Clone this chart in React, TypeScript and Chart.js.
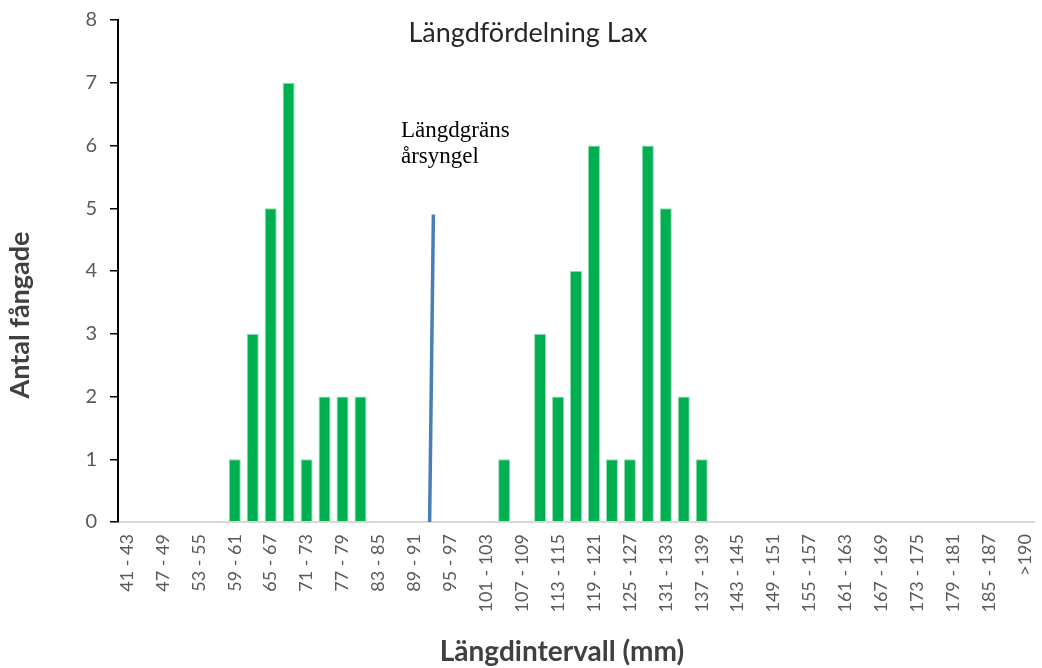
import React, { useEffect, useRef } from 'react';
import { Chart, registerables } from 'chart.js';

Chart.register(...registerables);

const categories: string[] = [
  '41 - 43', '44 - 46', '47 - 49', '50 - 52', '53 - 55', '56 - 58', '59 - 61', '62 - 64',
  '65 - 67', '68 - 70', '71 - 73', '74 - 76', '77 - 79', '80 - 82', '83 - 85', '86 - 88',
  '89 - 91', '92 - 94', '95 - 97', '98 - 100', '101 - 103', '104 - 106', '107 - 109', '110 - 112',
  '113 - 115', '116 - 118', '119 - 121', '122 - 124', '125 - 127', '128 - 130', '131 - 133', '134 - 136',
  '137 - 139', '140 - 142', '143 - 145', '146 - 148', '149 - 151', '152 - 154', '155 - 157', '158 - 160',
  '161 - 163', '164 - 166', '167 - 169', '170 - 172', '173 - 175', '176 - 178', '179 - 181', '182 - 184',
  '185 - 187', '188 - 190', '>190',
];

const counts: number[] = [
  0, 0, 0, 0, 0, 0, 1, 3, 5, 7, 1, 2, 2, 2, 0, 0,
  0, 0, 0, 0, 0, 1, 0, 3, 2, 4, 6, 1, 1, 6, 5, 2,
  1, 0, 0, 0, 0, 0, 0, 0, 0, 0, 0, 0, 0, 0, 0, 0,
  0, 0, 0,
];

// Length limit line (x in category-index units, y in counts)
const limitLineX: number[] = [16.85, 17.06];
const limitLineY: number[] = [0, 4.9];

const yTicks: number[] = [0, 1, 2, 3, 4, 5, 6, 7, 8];

const chartTitle = 'Längdfördelning Lax';
const xTitle = 'Längdintervall (mm)';
const yTitle = 'Antal fångade';
const annotationLines: string[] = ['Längdgräns', 'årsyngel'];

const textPlugin = {
  id: 'customTexts',
  afterDraw(chart: any) {
    const ctx = chart.ctx as CanvasRenderingContext2D;
    const ca = chart.chartArea;
    ctx.save();
    // Chart title (inside plot area)
    ctx.font = '27px Lato';
    ctx.fillStyle = '#262626';
    ctx.textAlign = 'center';
    ctx.textBaseline = 'alphabetic';
    ctx.fillText(chartTitle, ca.left + 410, ca.top + 22);

    // Annotation
    ctx.font = '23px "Liberation Serif"';
    ctx.fillStyle = '#000000';
    ctx.textAlign = 'left';
    ctx.fillText(annotationLines[0], ca.left + 283, ca.top + 117);
    ctx.fillText(annotationLines[1], ca.left + 283, ca.top + 143);

    // X axis title
    ctx.font = 'bold 28px Lato';
    ctx.fillStyle = '#404040';
    ctx.textAlign = 'center';
    ctx.fillText(xTitle, ca.left + 444, ca.bottom + 139);

    // Y axis title
    ctx.font = 'bold 27px Lato';
    ctx.translate(29, ca.top + 295);
    ctx.rotate(-Math.PI / 2);
    ctx.textAlign = 'center';
    ctx.fillText(yTitle, 0, 0);
    ctx.restore();
  },
};

export default function App() {
  const canvasRef = useRef<HTMLCanvasElement | null>(null);

  useEffect(() => {
    if (!canvasRef.current) return;
    const chart = new Chart(canvasRef.current, {
      type: 'bar',
      data: {
        labels: categories,
        datasets: [
          {
            type: 'bar',
            label: 'Antal',
            data: counts,
            backgroundColor: '#00b050',
            borderColor: '#8fdcb0',
            borderWidth: 1,
            barPercentage: 0.67,
            categoryPercentage: 1,
            grouped: false,
            xAxisID: 'x',
            yAxisID: 'y',
            order: 2,
          },
          {
            type: 'line',
            label: 'Längdgräns',
            data: limitLineX.map((x, i) => ({ x, y: limitLineY[i] })),
            borderColor: '#4a7ebb',
            borderWidth: 3.5,
            pointRadius: 0,
            fill: false,
            xAxisID: 'x2',
            yAxisID: 'y',
            order: 1,
          } as any,
        ],
      },
      options: {
        responsive: false,
        animation: false,
        devicePixelRatio: 1,
        layout: { padding: { top: 20, right: 8, left: 0, bottom: 0 } },
        plugins: {
          legend: { display: false },
          tooltip: { enabled: false },
          title: { display: false },
        },
        scales: {
          x: {
            type: 'category',
            position: 'bottom',
            offset: true,
            grid: { drawOnChartArea: false, drawTicks: false, display: true },
            border: { color: '#d9d9d9', width: 2 },
            ticks: {
              autoSkip: false,
              minRotation: 90,
              maxRotation: 90,
              padding: 12,
              color: '#595959',
              font: { family: 'Lato', size: 18 },
              callback: (_v: any, i: number) => (i % 2 === 0 ? categories[i] : ''),
            },
            afterFit: (scale: any) => {
              scale.height = 146;
              scale.paddingLeft = 0;
              scale.paddingRight = 0;
            },
          },
          x2: {
            type: 'linear',
            display: false,
            offset: false,
            grid: { offset: false },
            min: -0.5,
            max: categories.length - 0.5,
          },
          y: {
            type: 'linear',
            min: yTicks[0],
            max: yTicks[yTicks.length - 1],
            grid: {
              drawOnChartArea: false,
              drawTicks: true,
              tickLength: 8,
              color: '#000000',
              lineWidth: 1.5,
            },
            border: { color: '#000000', width: 2 },
            ticks: {
              stepSize: 1,
              padding: 13,
              color: '#595959',
              font: { family: 'Lato', size: 20 },
            },
            afterFit: (scale: any) => {
              scale.width = 118;
              scale.paddingTop = 0;
              scale.paddingBottom = 0;
            },
          },
        },
      } as any,
      plugins: [textPlugin],
    });
    return () => chart.destroy();
  }, []);

  return (
    <div style={{ position: 'absolute', left: 0, top: 0, width: 1042, height: 668, background: '#ffffff' }}>
      <canvas ref={canvasRef} width={1042} height={668} />
    </div>
  );
}
